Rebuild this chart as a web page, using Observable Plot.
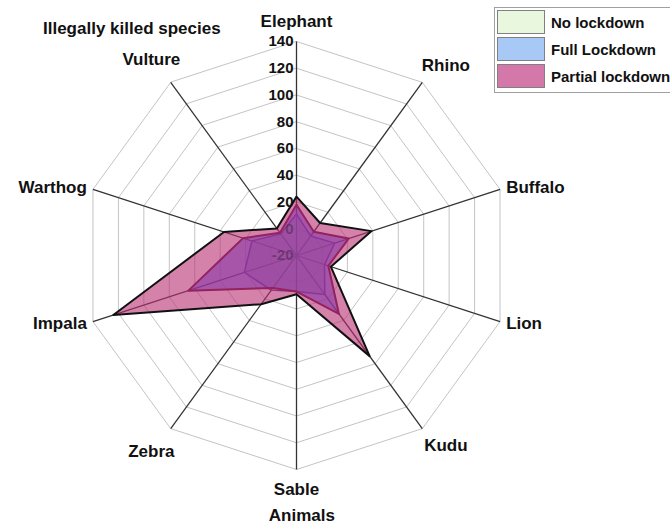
<!DOCTYPE html>
<html><head><meta charset="utf-8">
<script src="https://cdn.jsdelivr.net/npm/d3@7"></script>
<script src="https://cdn.jsdelivr.net/npm/@observablehq/plot@0.6"></script>
<style>
body{margin:0;background:#fff;font-family:"Liberation Sans",Arial,sans-serif;}
#wrap{position:relative;width:670px;height:526px;overflow:hidden;}
#chart{position:absolute;left:0;top:0;}
#title{position:absolute;left:43px;top:19px;font-weight:bold;font-size:17px;color:#111;white-space:nowrap;}
#legend{position:absolute;left:494px;top:7px;width:200px;height:84px;border:1px solid #a0a0a0;background:#fff;}
.item{position:absolute;left:2px;height:24px;display:flex;align-items:center;font-weight:bold;font-size:15px;color:#111;white-space:nowrap;}
.sw{width:48px;height:24px;border:1.5px solid #808080;margin-right:6px;box-sizing:border-box;}
</style></head><body>
<div id="wrap"><div id="chart"></div><div id="title">Illegally killed species</div><div id="legend"></div></div>
<script>
const species = ["Elephant","Rhino","Buffalo","Lion","Kudu","Sable","Zebra","Impala","Warthog","Vulture"];
const seriesNames = ["No lockdown","Full Lockdown","Partial lockdown"];
const noLockdown = [11,-2,10,2,16,7,12,21,15,0];
const fullLockdown = [18,2,21,5,34,7,10,65,22,1];
const partialLockdown = [24,10,39,7,73,9,25,124,37,5];
const tickValues = [-20,0,20,40,60,80,100,120,140];
const axisTitle = "Animals";

const rMin = -20, rMax = 140;
const n = species.length;
const ang = i => (2*Math.PI*i)/n;
const norm = v => (v - rMin)/(rMax - rMin);
const px = (r,i) => r*Math.sin(ang(i));
const py = (r,i) => r*Math.cos(ang(i));

const seriesData = [noLockdown, fullLockdown, partialLockdown];
const rows = seriesData.map((vals, s) => vals.map((v,i) => ({series: seriesNames[s], species: species[i], value: v, x: px(norm(v),i), y: py(norm(v),i)})));

const rings = [];
tickValues.filter(t => t > rMin).forEach(t => species.forEach((sp,i) => rings.push({ring:t, x: px(norm(t),i), y: py(norm(t),i)})));

const spokes = species.map((sp,i) => ({sp, x: px(1,i), y: py(1,i)}));

// label placement groups (by axis index)
const place = (idx, r) => idx.map(i => ({sp: species[i], x: px(r,i), y: py(r,i)}));
const labVert = place([0,5], 1.095);
const labDiagR = place([1,4], 1.1);
const labDiagL = place([6,9], 1.13);
const labR = place([2,3], 1.03);
const labL = place([7,8], 1.03);

// normal alpha compositing: drawn in order No, Full, Partial
const fills = ["#9bb4c1", "#3c46f5", "#b92e73"];
const fillOps = [0.5, 0.6, 0.6];
const strokes = ["#5a2ea0", "#5a1040", "#111111"];
const widths = [1.5, 2, 2];

const font = {fontWeight:"bold", fill:"#111", fontSize:17};

const chart = Plot.plot({
  width: 670, height: 526,
  marginLeft: 82, marginRight: 160, marginTop: 41, marginBottom: 57,
  x: {domain:[-1,1], axis:null},
  y: {domain:[-1,1], axis:null},
  style: {fontFamily:"'Liberation Sans', Arial, sans-serif", background:"transparent", overflow:"visible"},
  marks: [
    Plot.line(rings, {x:"x", y:"y", z:"ring", curve:"linear-closed", stroke:"#c4c4c4", strokeWidth:1}),
    Plot.link(spokes, {x1: () => 0, y1: () => 0, x2:"x", y2:"y", stroke:"#333", strokeWidth:1.3}),
    ...rows.map((r,s) => Plot.line(r, {x:"x", y:"y", curve:"linear-closed", fill: fills[s], fillOpacity: fillOps[s], stroke: strokes[s], strokeWidth: widths[s]})),
    Plot.text(tickValues, {x: () => 0, y: t => norm(t), text: t => String(t), textAnchor:"end", dx:-3, fontSize:15, fillOpacity: t => (t <= 0 ? 0.35 : 1), fontWeight:"bold", fill:"#111"}),
    Plot.text(labVert, {x:"x", y:"y", text:"sp", ...font}),
    Plot.text(labDiagR, {x:"x", y:"y", text:"sp", dx:11, ...font}),
    Plot.text(labDiagL, {x:"x", y:"y", text:"sp", dx:-3, ...font}),
    Plot.text(labR, {x:"x", y:"y", text:"sp", textAnchor:"start", ...font}),
    Plot.text(labL, {x:"x", y:"y", text:"sp", textAnchor:"end", ...font}),
    Plot.text([axisTitle], {x: () => 0.025, y: () => -1.215, text: d => d, ...font})
  ]
});
document.getElementById("chart").appendChild(chart);

const swatch = ["#e8f7de", "#a8c8f5", "#d478aa"];
const legend = document.getElementById("legend");
const tops = [2, 29, 56];
seriesNames.forEach((name, i) => {
  const it = document.createElement("div");
  it.className = "item";
  it.style.top = tops[i] + "px";
  const sw = document.createElement("div");
  sw.className = "sw";
  sw.style.background = swatch[i];
  it.appendChild(sw);
  it.appendChild(document.createTextNode(name));
  legend.appendChild(it);
});
</script>
</body></html>
